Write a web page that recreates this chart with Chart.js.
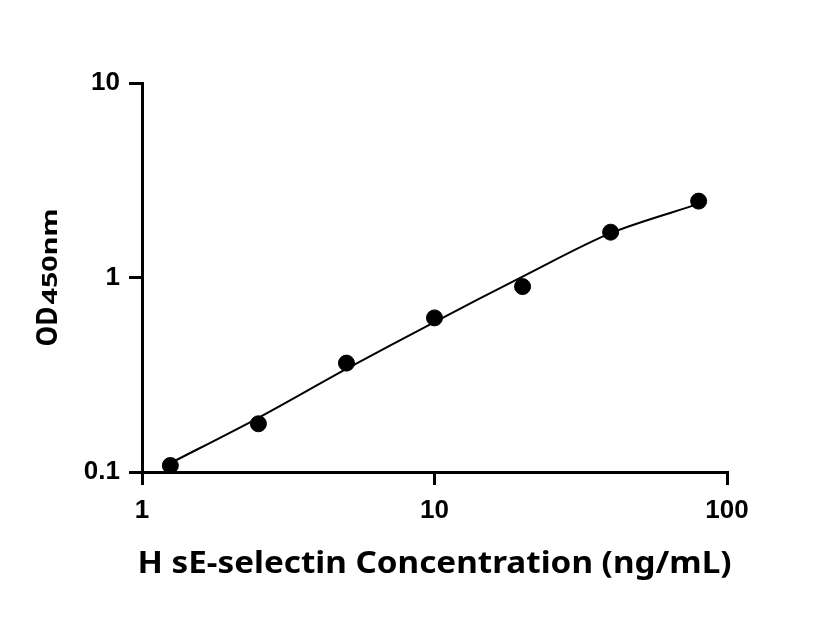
<!DOCTYPE html>
<html>
<head>
<meta charset="utf-8">
<script src="https://cdn.jsdelivr.net/npm/chart.js@4.4.1/dist/chart.umd.min.js"></script>
<style>
  html, body { margin: 0; padding: 0; background: #fff; }
  #wrap { width: 816px; height: 640px; }
</style>
</head>
<body>
<div id="wrap"><canvas id="chart" width="816" height="640"></canvas></div>
<script>
// Standard curve data
const concentrations = [1.25, 2.5, 5, 10, 20, 40, 80];
const odMeasured = [0.108, 0.177, 0.363, 0.62, 0.898, 1.71, 2.47];

// Fitted curve
const fitConc = [1.25, 2.5, 5, 10, 20, 40, 80];
const fitOd = [0.111, 0.190, 0.339, 0.590, 1.01, 1.69, 2.39];

// Axis ticks and titles
const xTicks = [1, 10, 100];
const yTicks = [0.1, 1, 10];
const xTitle = 'H sE-selectin Concentration (ng/mL)';
const yTitleMain = 'OD';
const yTitleSub = '450nm';

const tickFont = { family: 'Liberation Sans', size: 26, weight: 'bold' };

/**
 * Draws both axis titles (the y title has a smaller "450nm" part)
 */
const axisTitles = {
    id: 'axisTitles',
    afterDraw(chart) {
        const ctx = chart.ctx;
        const area = chart.chartArea;
        ctx.save();
        ctx.fillStyle = '#000';
        ctx.textBaseline = 'alphabetic';

        // x title, stretched to the reference width
        ctx.font = 'bold 30px "Noto Sans"';
        const xw = ctx.measureText(xTitle).width;
        const xTarget = 594;
        ctx.save();
        ctx.translate((area.left + area.right) / 2 - xTarget / 2, area.bottom + 101);
        ctx.scale(xTarget / xw, 1);
        ctx.fillText(xTitle, 0, 0);
        ctx.restore();

        // y title, rotated
        const midY = (area.top + area.bottom) / 2;
        ctx.save();
        ctx.translate(57, midY + 69);
        ctx.rotate(-Math.PI / 2);
        ctx.font = 'bold 28px "Noto Sans"';
        const w1 = ctx.measureText(yTitleMain).width;
        ctx.save();
        ctx.scale(40 / w1, 1);
        ctx.fillText(yTitleMain, 0, 0);
        ctx.restore();
        ctx.font = 'bold 21px "Noto Sans"';
        const w2 = ctx.measureText(yTitleSub).width;
        ctx.translate(42, 0);
        ctx.scale(96 / w2, 1);
        ctx.fillText(yTitleSub, 0, 0);
        ctx.restore();

        ctx.restore();
    }
};

const ctx = document.getElementById('chart').getContext('2d');
const chart = new Chart(ctx, {
    type: 'scatter',
    data: {
        datasets: [
            {
                label: 'Fit',
                type: 'line',
                data: fitConc.map((x, i) => ({ x: x, y: fitOd[i] })),
                borderColor: '#000',
                borderWidth: 2,
                pointRadius: 0,
                fill: false,
                tension: 0.3,
                clip: false
            },
            {
                label: 'OD',
                data: concentrations.map((x, i) => ({ x: x, y: odMeasured[i] })),
                backgroundColor: '#000',
                borderColor: '#000',
                pointRadius: 8,
                pointHoverRadius: 8,
                clip: false
            }
        ]
    },
    options: {
        responsive: false,
        animation: false,
        events: [],
        layout: { padding: { left: 0, right: 89, top: 83, bottom: 0 } },
        plugins: {
            legend: { display: false },
            tooltip: { enabled: false }
        },
        scales: {
            x: {
                type: 'logarithmic',
                min: 1,
                max: 100,
                border: { display: true, color: '#000', width: 3 },
                grid: { drawOnChartArea: false, drawTicks: true, tickLength: 13, lineWidth: 3, color: '#000' },
                ticks: {
                    color: '#000',
                    font: tickFont,
                    padding: 10,
                    maxRotation: 0,
                    callback: (v) => String(v)
                },
                afterBuildTicks: (scale) => { scale.ticks = xTicks.map(v => ({ value: v })); },
                afterFit: (scale) => { scale.height = 168; }
            },
            y: {
                type: 'logarithmic',
                min: 0.1,
                max: 10,
                border: { display: true, color: '#000', width: 3 },
                grid: { drawOnChartArea: false, drawTicks: true, tickLength: 13, lineWidth: 3, color: '#000' },
                ticks: {
                    color: '#000',
                    font: tickFont,
                    padding: 9,
                    callback: (v) => String(v)
                },
                afterBuildTicks: (scale) => { scale.ticks = yTicks.map(v => ({ value: v })); },
                afterFit: (scale) => { scale.width = 142; }
            }
        }
    },
    plugins: [axisTitles]
});
</script>
</body>
</html>
